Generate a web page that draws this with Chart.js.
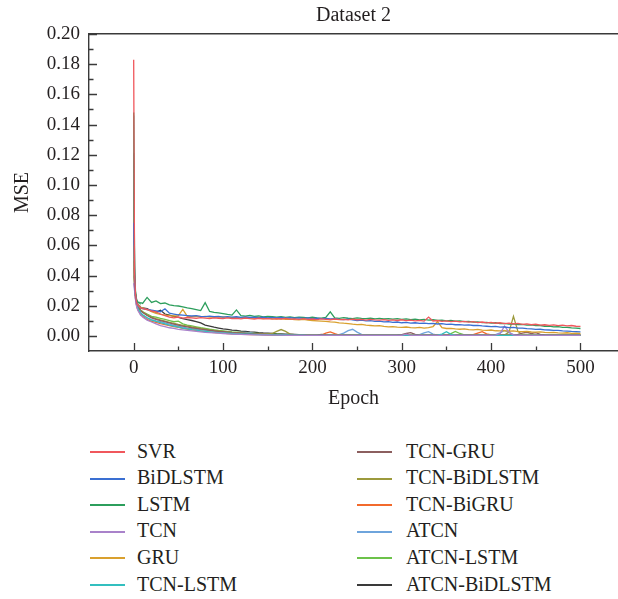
<!DOCTYPE html>
<html><head><meta charset="utf-8">
<script src="https://cdn.jsdelivr.net/npm/chart.js@4.4.1/dist/chart.umd.min.js"></script>
<style>
html,body{margin:0;padding:0;background:#fff;}
#wrap{position:relative;width:618px;height:599px;overflow:hidden;background:#fff;}
#c{position:absolute;left:0;top:0;}
.lgt{position:absolute;font-size:20px;line-height:24px;color:#231f20;white-space:nowrap;}
.lgl{position:absolute;height:2px;width:35px;}
</style></head><body>
<div id="wrap"><canvas id="c" width="618" height="420"></canvas></div>
<script>
// ---------- DATA (MSE values in units of 0.001) ----------
const epochs = [0,1,2,3,4,5,6,7,8,10,
15,20,25,30,35,40,45,50,55,60,
65,70,75,80,85,90,95,100,105,110,
115,120,125,130,135,140,145,150,155,160,
165,170,175,180,185,190,195,200,205,210,
215,220,225,230,235,240,245,250,255,260,
265,270,275,280,285,290,295,300,305,310,
315,320,325,330,335,340,345,350,355,360,
365,370,375,380,385,390,395,400,405,410,
415,420,425,430,435,440,445,450,455,460,
465,470,475,480,485,490,495,500];

const seriesNames = ['SVR','BiDLSTM','LSTM','TCN','GRU','TCN-LSTM',
  'TCN-GRU','TCN-BiDLSTM','TCN-BiGRU','ATCN','ATCN-LSTM','ATCN-BiDLSTM'];
const seriesColors = ['#f0575c','#3a6fd2','#2c9e5c','#a982ca','#d9a02e','#33bfbf',
  '#8c5f5f','#9c9a3c','#f26a2c','#6ea4dc','#6cc24a','#3a3a3a'];

const svr = [
183,42,28,23,21,20,19.5,19,18.5,18,
17.5,16.5,16,14.5,13.5,12.5,12,12.5,11.8,12.2,
12,11.6,12.1,11.8,11.5,12,11.7,11.4,11.9,11.5,
11.6,11.3,11.8,11.4,11.2,11.7,11.3,11.5,11.1,11.4,
11.2,11.6,11.1,11.3,10.9,11.4,11,11.2,10.8,11.3,
11,10.7,11.2,10.8,11,10.6,11.1,10.7,10.9,10.5,
10.9,10.6,10.4,10.8,10.3,10.6,10.2,10.7,10.1,10.4,
10,10.3,9.8,12.5,9.9,10.2,9.6,9.9,9.5,9.8,
9.3,9.6,9.1,9.4,8.8,9.2,8.6,8.9,8.4,8.7,
8.2,8.5,7.9,8.3,7.6,7.9,7.4,7.7,7.1,7.4,
7,7.3,6.8,7.1,6.6,6.9,6.4,6.3];

const bidlstm = [
75,38,27,23,21,20,19.5,19,18.5,18,
17.5,17,16.5,16,18,15,14.5,14,13.8,13.5,
13.2,13.4,13,12.8,13.1,12.7,12.9,12.5,12.8,12.4,
12.7,12.3,12.6,12.2,12.5,12.1,12.4,12,12.3,11.9,
12.2,11.8,12.1,11.7,12,11.6,11.9,11.5,11.8,11.4,
11.6,11.2,11.5,11,10.8,11.1,10.6,10.2,10.5,9.9,
10.1,9.6,9.8,9.3,9.5,9,9.2,8.7,8.9,8.5,
8.7,8.3,8.5,8.1,8.3,7.9,8.1,7.6,7.8,7.4,
7.5,7.1,7.3,6.9,7,6.6,6.4,6.1,6.3,5.8,
5.9,5.5,5.6,5.1,5.2,4.8,4.6,4.3,4.4,4,
3.9,3.6,3.7,3.3,3.2,3,2.9,2.7];

const lstm = [
148,45,30,25,23,22,22.3,21.6,22,21.5,
25.5,22.2,23.2,21.4,21.8,20.6,20,19.8,19.2,18.5,
18,17.4,16.8,22,16.2,15.6,15.2,14.8,14.2,13.8,
17.2,13.4,13.1,13.6,12.9,13.2,12.6,13,12.7,12.4,
12.8,12.3,12.6,12.1,12.5,12.2,11.9,12.4,12,11.8,
12.2,16,11.9,11.6,12.1,11.7,11.5,12,11.6,11.4,
11.8,11.3,11.6,11.2,11.5,11.1,11.4,11,11.3,10.8,
11.1,10.6,10.9,10.4,10.7,10.2,10.5,10,10.2,9.7,
9.9,9.4,9.6,9.1,9.3,8.8,9,8.5,8.7,8.2,
8.3,7.8,8,7.5,7.6,7.1,7.3,6.8,6.9,6.4,
6.5,6,6.1,5.7,5.7,5.3,5.2,4.9];

const tcn = [
35,30,24,20,18,16.5,15.5,14.5,13.8,12.5,
10.5,9.2,8,6.8,6.2,5.4,5,4.3,4,3.6,
3.3,3,2.7,2.4,2.2,2,1.8,1.6,1.4,1.2,
1.1,1,0.9,0.8,0.7,0.7,0.6,0.6,0.5,0.5,
0.5,0.4,0.4,0.4,0.3,0.4,0.3,0.3,0.4,0.3,
0.3,0.3,0.4,0.3,0.3,0.3,0.3,0.4,0.3,0.3,
0.3,0.3,0.3,0.3,0.3,0.4,0.3,0.3,1.2,0.4,
0.3,0.3,0.3,0.3,0.3,0.3,0.3,0.3,0.3,0.3,
0.3,0.3,0.3,0.3,0.3,0.3,0.3,0.3,0.5,1.5,
6.5,2.5,0.6,0.3,0.3,0.3,0.3,0.3,0.3,0.3,
0.3,0.3,0.3,0.3,0.3,0.3,0.3,0.3];

const gru = [
60,36,27,23,21.5,20.5,20,19.5,19,18.5,
17.5,16,15,14.2,13.8,13.4,13.2,13.5,17.5,13,
12.8,13,12.6,12.9,12.5,12.7,12.4,12.6,12.3,12.1,
12.3,12,12.2,11.8,12,11.7,11.5,11.8,11.4,11.2,
11.4,11,11.2,10.8,10.6,10.9,10.4,10.2,10,9.8,
9.6,9.3,9.1,8.7,8.4,8.2,7.8,7.5,7.7,7.2,
6.9,6.6,6.8,6.3,6,6.2,5.8,5.6,5.9,5.5,
5.3,5.6,5.2,5.5,6.2,9.5,5.4,4.9,5,4.6,
4.4,4.6,4.2,4,4.3,3.8,3.6,3.9,3.4,3.3,
3.5,3.1,3.3,2.9,2.8,3,2.6,2.5,2.7,2.3,
2.2,2.4,2,1.9,2.1,1.7,1.8,1.6];

const tcnLstm = [
146,40,27,22,19.5,18,17,16,15.2,14,
12,10.5,9.6,8.8,8,7.2,6.5,5.8,5.2,4.7,
4.2,3.8,3.4,3,2.7,2.4,2.2,2,1.8,1.6,
1.4,1.3,1.2,1.1,1,0.9,0.8,0.8,0.7,0.7,
0.6,0.6,0.5,0.5,0.5,0.5,0.4,0.4,0.4,0.4,
0.4,0.4,0.4,0.4,0.4,0.4,0.4,0.4,0.4,0.4,
0.4,0.4,0.4,0.4,0.4,0.4,0.4,0.4,0.4,0.4,
0.4,0.4,0.4,0.4,0.4,0.5,1.2,2.8,1,0.5,
0.4,0.4,0.4,0.4,0.4,0.4,0.4,0.4,0.4,0.4,
0.4,0.4,0.4,0.4,0.4,0.4,0.4,0.4,0.4,0.4,
0.4,0.4,0.4,0.4,0.4,0.4,0.4,0.4];

const tcnGru = [
108,38,27,23,20.5,19,18,17.2,16.5,15.5,
13.5,12,11,10.2,9.4,8.6,7.8,7.2,6.5,6,
5.4,5,4.5,4.1,3.7,3.3,3,2.8,2.5,2.2,
2,1.8,1.6,1.5,1.3,1.2,1.1,1,0.9,0.8,
0.8,0.7,0.7,0.6,0.6,0.6,0.5,0.5,0.5,1,
0.6,0.5,0.5,0.5,0.5,0.5,0.5,0.5,0.5,0.5,
0.5,0.5,0.5,0.5,0.5,0.5,0.6,0.8,1.6,2.2,
1,0.5,0.5,0.5,0.5,0.5,0.5,0.5,0.5,0.5,
0.5,0.5,0.5,0.5,0.5,0.5,0.5,0.5,0.5,0.5,
0.5,0.5,0.6,1,1.8,2.4,1.6,2.2,1,0.6,
0.5,0.5,0.5,0.5,0.5,0.5,0.5,0.5];

const tcnBidlstm = [
90,37,27,23,21,19.5,18.5,17.8,17,16,
14,12.5,11.5,10.6,9.8,9,8.3,7.6,7,6.5,
5.9,5.4,4.9,4.5,4,3.6,3.3,3,2.7,2.4,
2.2,2,1.8,1.6,1.5,1.4,1.3,1.2,1.6,3,
4.2,3,1.2,0.8,0.7,0.6,0.6,0.5,0.5,0.5,
0.5,0.5,0.5,0.5,0.5,0.5,0.5,0.5,0.5,0.5,
0.5,0.5,0.5,0.5,0.5,0.5,0.5,0.5,0.5,0.5,
0.5,0.5,0.5,0.5,0.5,0.5,0.5,0.5,0.5,0.5,
0.5,0.5,0.5,0.5,0.5,0.5,0.5,0.5,0.5,0.5,
0.6,2.5,13,3,0.8,0.6,0.5,0.5,0.5,0.5,
0.5,0.5,0.5,0.5,0.5,0.5,0.5,0.5];

const tcnBigru = [
50,33,25,21,18.5,17,16,15,14.2,13,
11,9.6,9,8.2,7.5,6.8,6.2,5.6,5,4.5,
4,3.6,3.2,2.8,2.5,2.2,2,1.8,1.6,1.4,
1.3,1.1,1,0.9,0.8,0.8,0.7,0.6,0.6,0.5,
0.5,0.5,0.4,0.4,0.4,0.4,0.4,0.4,0.4,0.5,
1.8,2.6,1.5,0.6,0.4,0.4,0.4,0.4,0.4,0.4,
0.4,0.4,0.4,0.4,0.4,0.4,0.4,0.4,0.4,0.4,
0.4,0.4,0.4,0.4,0.4,0.4,0.4,0.4,0.4,0.4,
0.4,0.4,0.5,0.8,1.8,2.8,1.4,0.6,0.4,0.4,
0.4,0.4,0.4,0.4,0.4,0.4,0.4,0.4,0.4,0.4,
0.4,0.4,0.4,0.4,0.4,0.4,0.4,0.4];

const atcn = [
45,32,25,21,19,17.5,16.5,15.6,14.8,13.8,
12,10.8,10,9.4,8.6,7.8,7,6.4,5.8,5.2,
4.8,4.4,4,3.6,3.3,3,2.7,2.5,2.3,2.2,
2,2.1,2.4,2,1.5,1.2,1,0.9,0.8,0.7,
0.7,0.6,0.6,0.5,0.5,0.5,0.5,0.5,0.5,0.5,
0.5,0.5,0.5,0.8,1.8,3.5,4.4,2.5,1,0.6,
0.5,0.5,0.5,0.5,0.5,0.5,0.5,0.5,0.5,0.5,
0.5,0.8,2,2.8,1.2,0.5,0.5,0.5,0.5,0.5,
0.5,0.5,0.5,0.5,0.5,0.5,0.5,0.5,0.8,2,
3.6,2.2,0.8,0.5,0.5,0.5,0.5,0.5,0.5,0.5,
0.5,0.5,0.5,0.5,0.5,0.5,0.5,0.5];

const atcnLstm = [
40,34,27,23,21,19.5,18.5,17.8,17,16,
14.5,13,12.4,11.6,11,10.2,9.4,9.8,8,7.2,
6.6,6,5.4,4.9,4.4,4,3.6,3.3,3,2.7,
2.5,2.3,2.1,1.9,1.7,1.6,1.4,1.3,1.2,1.1,
1,0.9,0.9,0.8,0.8,0.7,0.7,0.7,0.6,0.6,
0.6,0.6,0.6,0.6,0.6,0.6,0.6,0.6,0.6,0.6,
0.6,0.6,0.6,0.6,0.6,0.6,0.6,0.6,0.6,0.6,
0.6,0.6,0.6,0.6,0.6,0.6,0.6,0.6,1.5,3,
1.6,0.7,0.6,0.6,0.6,0.6,0.6,0.6,0.6,0.6,
0.6,0.6,0.6,0.6,0.6,0.6,0.6,0.6,0.6,0.6,
0.6,0.6,0.6,0.6,0.6,0.6,0.6,0.6];

const atcnBidlstm = [
121,40,28,24,22,20.5,20,19.5,19,18.5,
18,16.5,15.8,17,14.5,13.8,13,12.2,11.5,10.8,
10.2,9.5,8.6,7.2,6.5,5.8,5.2,4.6,4.3,3.8,
3.6,3.2,3,2.7,2.5,2.2,2,1.9,1.7,1.5,
1.4,1.2,1.1,1,0.9,0.8,0.8,0.7,0.7,0.6,
0.6,0.5,0.6,0.5,0.5,0.6,0.5,0.4,0.5,0.5,
0.4,0.5,0.4,0.5,0.4,0.4,0.5,0.4,0.4,0.5,
0.4,0.4,0.5,0.4,0.4,0.4,0.5,0.4,0.4,0.4,
0.5,0.4,0.4,0.4,0.5,0.4,0.4,0.4,0.4,0.5,
0.4,0.4,0.4,0.5,0.4,0.4,0.4,0.4,0.5,0.4,
0.4,0.4,0.4,0.5,0.4,0.4,0.4,0.4];

const seriesValues = [svr,bidlstm,lstm,tcn,gru,tcnLstm,tcnGru,tcnBidlstm,tcnBigru,atcn,atcnLstm,atcnBidlstm];

const xTickValues = [0,100,200,300,400,500];
const xTickLabels = ['0','100','200','300','400','500'];
const xMinorTickValues = [50,150,250,350,450];
const yTickValues = [0,20,40,60,80,100,120,140,160,180,200];
const yTickLabels = ['0.00','0.02','0.04','0.06','0.08','0.10','0.12','0.14','0.16','0.18','0.20'];
const yMinorTickValues = [10,30,50,70,90,110,130,150,170,190];
const xMin = -50, xMax = 542, yMin = -10, yMax = 200;

// ---------- STYLE ----------
const FONT = "'Liberation Serif','Times New Roman',serif";
const textColor = '#231f20';
const frameColor = '#3a3a3a';

const datasets = seriesNames.map((name, k) => ({
  label: name,
  data: seriesValues[k].map((v, i) => ({x: epochs[i], y: v})),
  borderColor: seriesColors[k],
  backgroundColor: seriesColors[k],
  borderWidth: 1.3,
  pointRadius: 0,
  tension: 0,
  fill: false
}));

const tickMarks = {
  id: 'tickMarks',
  afterDatasetsDraw(chart) {
    const {ctx, chartArea: a, scales} = chart;
    const xs = scales.x, ys = scales.y;
    ctx.save();
    ctx.strokeStyle = frameColor;
    ctx.lineWidth = 1.3;
    ctx.beginPath();
    const vx = (v, len) => { const p = Math.round(xs.getPixelForValue(v)) + 0.5; ctx.moveTo(p, a.bottom); ctx.lineTo(p, a.bottom - len); };
    const hy = (v, len) => { const p = Math.round(ys.getPixelForValue(v)) + 0.5; ctx.moveTo(a.left, p); ctx.lineTo(a.left + len, p); };
    xTickValues.forEach(v => vx(v, 8));
    xMinorTickValues.forEach(v => vx(v, 4.5));
    yTickValues.forEach(v => hy(v, 8));
    yMinorTickValues.forEach(v => hy(v, 4.5));
    ctx.stroke();
    ctx.restore();
  }
};

new Chart(document.getElementById('c'), {
  type: 'line',
  data: { datasets },
  plugins: [tickMarks],
  options: {
    responsive: false,
    animation: false,
    devicePixelRatio: 1,
    events: [],
    layout: { padding: 0 },
    plugins: { legend: { display: false }, tooltip: { enabled: false }, title: { display: false } },
    scales: {
      x: {
        type: 'linear', position: 'bottom', min: xMin, max: xMax,
        afterBuildTicks: s => { s.ticks = xTickValues.map(v => ({value: v})); },
        afterFit: s => { s.height = 69; },
        grid: { display: false, drawTicks: false },
        border: { display: true, color: frameColor, width: 1.4 },
        ticks: { padding: 6, color: textColor, font: { family: FONT, size: 19 }, maxRotation: 0, autoSkip: false,
          callback: (v, i) => xTickLabels[i] },
        title: { display: true, text: 'Epoch', color: textColor, font: { family: FONT, size: 20 }, padding: { top: 0, bottom: 9 } }
      },
      x2: {
        type: 'linear', position: 'top', min: xMin, max: xMax,
        afterFit: s => { s.height = 34; },
        grid: { display: false, drawTicks: false },
        border: { display: true, color: frameColor, width: 1.4 },
        ticks: { display: false },
        title: { display: true, text: 'Dataset 2', color: textColor, font: { family: FONT, size: 20 }, padding: { top: 4, bottom: 0 } }
      },
      y: {
        type: 'linear', position: 'left', min: yMin, max: yMax,
        afterBuildTicks: s => { s.ticks = yTickValues.map(v => ({value: v})); },
        afterFit: s => { s.width = 89; },
        grid: { display: false, drawTicks: false },
        border: { display: true, color: frameColor, width: 1.4 },
        ticks: { padding: 9, color: textColor, font: { family: FONT, size: 19 }, autoSkip: false,
          callback: (v, i) => yTickLabels[i] },
        title: { display: true, text: 'MSE', color: textColor, font: { family: FONT, size: 20 }, padding: { top: 11, bottom: 0 } }
      }
    }
  }
});

// ---------- LEGEND (HTML, two columns) ----------
const wrap = document.getElementById('wrap');
const colLineX = [90, 357], colTextX = [137, 406];
seriesNames.forEach((name, k) => {
  const col = Math.floor(k / 6), row = k % 6;
  const cy = 452 + 26.6 * row;
  const ln = document.createElement('div');
  ln.className = 'lgl';
  ln.style.left = colLineX[col] + 'px';
  ln.style.top = (cy - 1) + 'px';
  ln.style.background = seriesColors[k];
  wrap.appendChild(ln);
  const t = document.createElement('div');
  t.className = 'lgt';
  t.style.fontFamily = FONT;
  t.style.left = colTextX[col] + 'px';
  t.style.top = (cy - 13.5) + 'px';
  t.textContent = name;
  wrap.appendChild(t);
});
</script>
</body></html>
